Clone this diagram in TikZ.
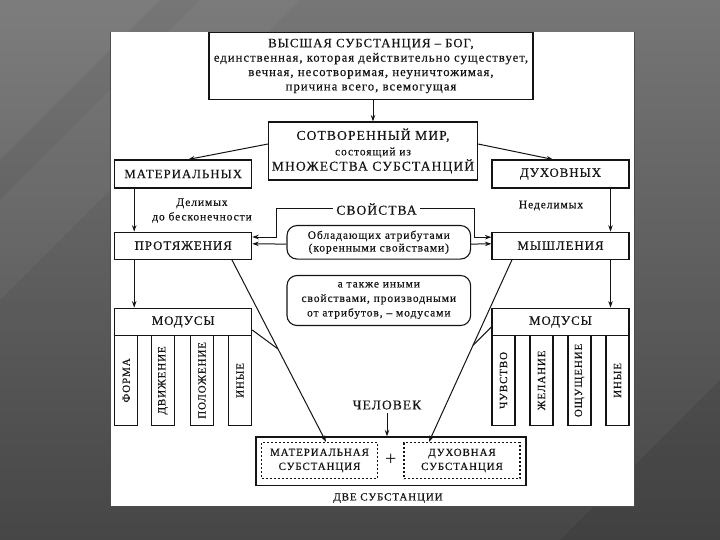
\documentclass[tikz,border=0pt]{standalone}
\usepackage{fontspec}
\setmainfont{Liberation Serif}
\newfontfamily\widefont{Liberation Serif}[LetterSpace=8.0,FakeBold=0.35]
\usetikzlibrary{arrows.meta,calc}
\definecolor{ink}{RGB}{20,20,20}
\definecolor{bgA}{RGB}{118,118,118}
\definecolor{bgB}{RGB}{70,70,70}
\begin{document}
\begin{tikzpicture}[x=1pt,y=-1pt,
  every node/.style={text=ink},
  box/.style={draw=ink, line width=1.1pt, inner sep=0pt, align=center},
  rbox/.style={box, rounded corners=10pt},
  dbox/.style={draw=ink, line width=1.3pt, dash pattern=on 2pt off 2pt, inner sep=0pt, align=center},
  vbox/.style={box, minimum width=23pt, minimum height=89.3pt},
  vtext/.style={rotate=90, font=\widefont\fontsize{11}{12}\selectfont},
  caps/.style={font=\widefont\fontsize{12.8}{14}\selectfont},
  arr/.style={draw=ink, line width=1pt, -{Stealth[length=6.5pt,width=4.5pt]}},
  ln/.style={draw=ink, line width=1pt}
]
\useasboundingbox (0,0) rectangle (720,540);
% slide background
\shade[top color=bgA, bottom color=bgB] (0,0) rectangle (720,540);
\fill[white, opacity=0.05] (0,0) -- (160,0) -- (0,160) -- cycle;
\fill[white, opacity=0.04] (200,0) -- (300,0) -- (0,300) -- (0,200) -- cycle;
\fill[black, opacity=0.08] (720,380) -- (720,540) -- (560,540) -- cycle;
% white panel
\fill[white] (111,32) rectangle (634,506);
\draw[black!70, line width=1pt] (110.5,32) -- (110.5,506.5) -- (634.5,506.5) -- (634.5,32);

% top box
\node[box, minimum width=324pt, minimum height=67pt, font=\widefont\fontsize{12.7}{14.4}\selectfont] (god) at (371,66)
 {ВЫСШАЯ СУБСТАНЦИЯ – БОГ,\\
  единственная, которая действительно существует,\\
  вечная, несотворимая, неуничтожимая,\\
  причина всего, всемогущая};

\node[box, minimum width=209pt, minimum height=58pt, font=\widefont\fontsize{13.6}{15.4}\selectfont] (world) at (373,151)
 {СОТВОРЕННЫЙ МИР,\\
  {\fontsize{11.5}{15.4}\selectfont состоящий из}\\
  МНОЖЕСТВА СУБСТАНЦИЙ};

\node[box, caps, minimum width=137pt, minimum height=28pt] (mat) at (183.2,174) {МАТЕРИАЛЬНЫХ};
\node[box, caps, minimum width=137pt, minimum height=28pt] (duh) at (560.5,174) {ДУХОВНЫХ};

\node[align=center, font=\widefont\fontsize{11.5}{14.5}\selectfont] (del) at (202,210.5) {Делимых\\до бесконечности};
\node[font=\widefont\fontsize{11.5}{14}\selectfont] (nedel) at (551,205.6) {Неделимых};

\node[box, caps, minimum width=137pt, minimum height=27pt] (prot) at (183.2,245.7) {ПРОТЯЖЕНИЯ};
\node[box, caps, minimum width=137pt, minimum height=27pt] (mysh) at (560.5,245.7) {МЫШЛЕНИЯ};

\node[font=\widefont\fontsize{13.5}{15}\selectfont, inner xsep=3pt] (svoj) at (376.5,209) {СВОЙСТВА};

\node[rbox, minimum width=183.6pt, minimum height=33.5pt, font=\widefont\fontsize{11.5}{12.6}\selectfont] (attr) at (378.8,242.3)
 {Обладающих атрибутами\\(коренными свойствами)};
\node[rbox, minimum width=183.6pt, minimum height=50pt, font=\widefont\fontsize{11.5}{14.5}\selectfont] (also) at (378.8,300.5)
 {а также иными\\свойствами, производными\\от атрибутов, – модусами};

\node[box, caps, minimum width=137pt, minimum height=27.7pt] (modL) at (183.2,322) {МОДУСЫ};
\node[box, caps, minimum width=137pt, minimum height=27.7pt] (modR) at (560.5,322) {МОДУСЫ};

\node[vbox] (forma) at (126.3,380.4) {};
\node[vtext] at (forma) {ФОРМА};
\node[vbox] (dvizh) at (163,380.4) {};
\node[vtext] at (dvizh) {ДВИЖЕНИЕ};
\node[vbox] (polozh) at (202,380.4) {};
\node[vtext] at (polozh) {ПОЛОЖЕНИЕ};
\node[vbox] (inyeL) at (240.1,380.4) {};
\node[vtext] at (inyeL) {ИНЫЕ};

\node[vbox] (chuv) at (503.5,380.4) {};
\node[vtext] at (chuv) {ЧУВСТВО};
\node[vbox] (zhel) at (541.5,380.4) {};
\node[vtext] at (zhel) {ЖЕЛАНИЕ};
\node[vbox] (oshch) at (579.5,380.4) {};
\node[vtext] at (oshch) {ОЩУЩЕНИЕ};
\node[vbox] (inyeR) at (617.5,380.4) {};
\node[vtext] at (inyeR) {ИНЫЕ};

\node[font=\widefont\fontsize{13.5}{15}\selectfont] (chel) at (387,405) {ЧЕЛОВЕК};

\node[box, minimum width=270pt, minimum height=48.5pt] (two) at (391,461.2) {};
\node[dbox, minimum width=115.7pt, minimum height=36pt, font=\widefont\fontsize{11}{14}\selectfont] (subM) at (319.5,460.5)
 {МАТЕРИАЛЬНАЯ\\СУБСТАНЦИЯ};
\node[dbox, minimum width=116pt, minimum height=36pt, font=\widefont\fontsize{11}{14}\selectfont] (subD) at (462,460.5)
 {ДУХОВНАЯ\\СУБСТАНЦИЯ};
\node[font=\fontsize{20}{20}\selectfont] (plus) at (390.7,459.5) {+};
\node[font=\widefont\fontsize{11}{13}\selectfont] (twolab) at (388,498) {ДВЕ СУБСТАНЦИИ};

% connectors
\draw[arr] (world.north |- god.south) -- (world.north);
\draw[arr] ([yshift=7pt]world.west) -- ([xshift=5pt]mat.north);
\draw[arr] ([yshift=7pt]world.east) -- ([xshift=-7.5pt]duh.north);
\draw[arr] ([xshift=-49pt]mat.south) -- ([xshift=-49pt]prot.north);
\draw[arr] ([xshift=50pt]duh.south) -- ([xshift=50pt]mysh.north);
\draw[arr] ([xshift=-49pt]prot.south) -- ([xshift=-49pt]modL.north);
\draw[arr] ([xshift=50pt]mysh.south) -- ([xshift=50pt]modR.north);

\draw[arr] (svoj.west) -| ([xshift=24pt,yshift=8.7pt]prot.east) -- ([yshift=8.7pt]prot.east);
\draw[arr] (svoj.east) -| ([xshift=-17pt,yshift=8.5pt]mysh.west) -- ([yshift=8.5pt]mysh.west);
\draw[arr] ([yshift=-1.8pt]attr.west) -- ([yshift=1.9pt]prot.east);
\draw[arr] ([yshift=-1.8pt]attr.east) -- ([yshift=1.9pt]mysh.west);

\coordinate (pL) at ([xshift=48.7pt]prot.south);
\coordinate (tL) at ([xshift=6.5pt]subM.north);
\coordinate (pR) at ([xshift=-48.5pt]mysh.south);
\coordinate (tR) at ([xshift=-33pt]subD.north);
\draw[arr] (pL) -- (tL);
\draw[arr] (pR) -- (tR);
\draw[ln] ([yshift=-8pt]modL.east) -- ($(pL)!0.49!(tL)$);
\draw[ln] ([yshift=-5pt]modR.west) -- ($(pR)!0.47!(tR)$);

\draw[arr] (chel.south) -- (chel.south |- two.north);
\end{tikzpicture}
\end{document}
